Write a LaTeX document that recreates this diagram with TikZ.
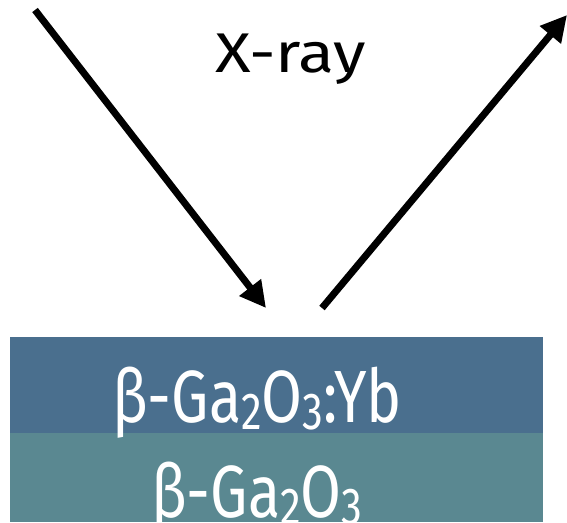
\documentclass[tikz,border=0pt]{standalone}
\usepackage{fontspec}
\setmainfont{Fira Sans}[Numbers=Lining]
\usetikzlibrary{arrows.meta}
\definecolor{topc}{HTML}{4A6F8E}
\definecolor{botc}{HTML}{5A8891}
\tikzset{
  ray/.style={line width=7pt,-{Triangle[length=26pt,width=26pt]}},
  layer/.style={draw=none,minimum width=533pt,inner sep=0pt,text=white},
  lbl/.style={inner sep=0pt}
}
\newcommand{\mysub}[1]{\raisebox{-7pt}{\fontsize{52}{52}\selectfont #1}}
\begin{document}
\begin{tikzpicture}[x=1pt,y=-1pt]
\useasboundingbox (0,0) rectangle (567,522);
\node[layer,fill=topc,minimum height=96pt,anchor=north west] (top) at (10,337) {};
\node[layer,fill=botc,minimum height=89pt,anchor=north west] (bot) at (10,433) {};
\node[lbl,text=white,font=\fontsize{74}{80}\selectfont,anchor=base] (tl) at (257,422) {\scalebox{0.8}[1]{β-Ga\mysub{2}O\mysub{3}:Yb}};
\node[lbl,text=white,font=\fontsize{74}{80}\selectfont,anchor=base] (bl) at (257,517) {\scalebox{0.8}[1]{β-Ga\mysub{2}O\mysub{3}}};
\node[lbl,font=\fontsize{56}{60}\selectfont,anchor=base] (xr) at (291,72) {\scalebox{1.18}[1]{X-ray}};
\coordinate (a1s) at (35,10);
\coordinate (a1e) at (266,308);
\coordinate (a2s) at (322,308);
\coordinate (a2e) at (567,15);
\draw[ray] (a1s) -- (a1e);
\draw[ray] (a2s) -- (a2e);
\end{tikzpicture}
\end{document}
